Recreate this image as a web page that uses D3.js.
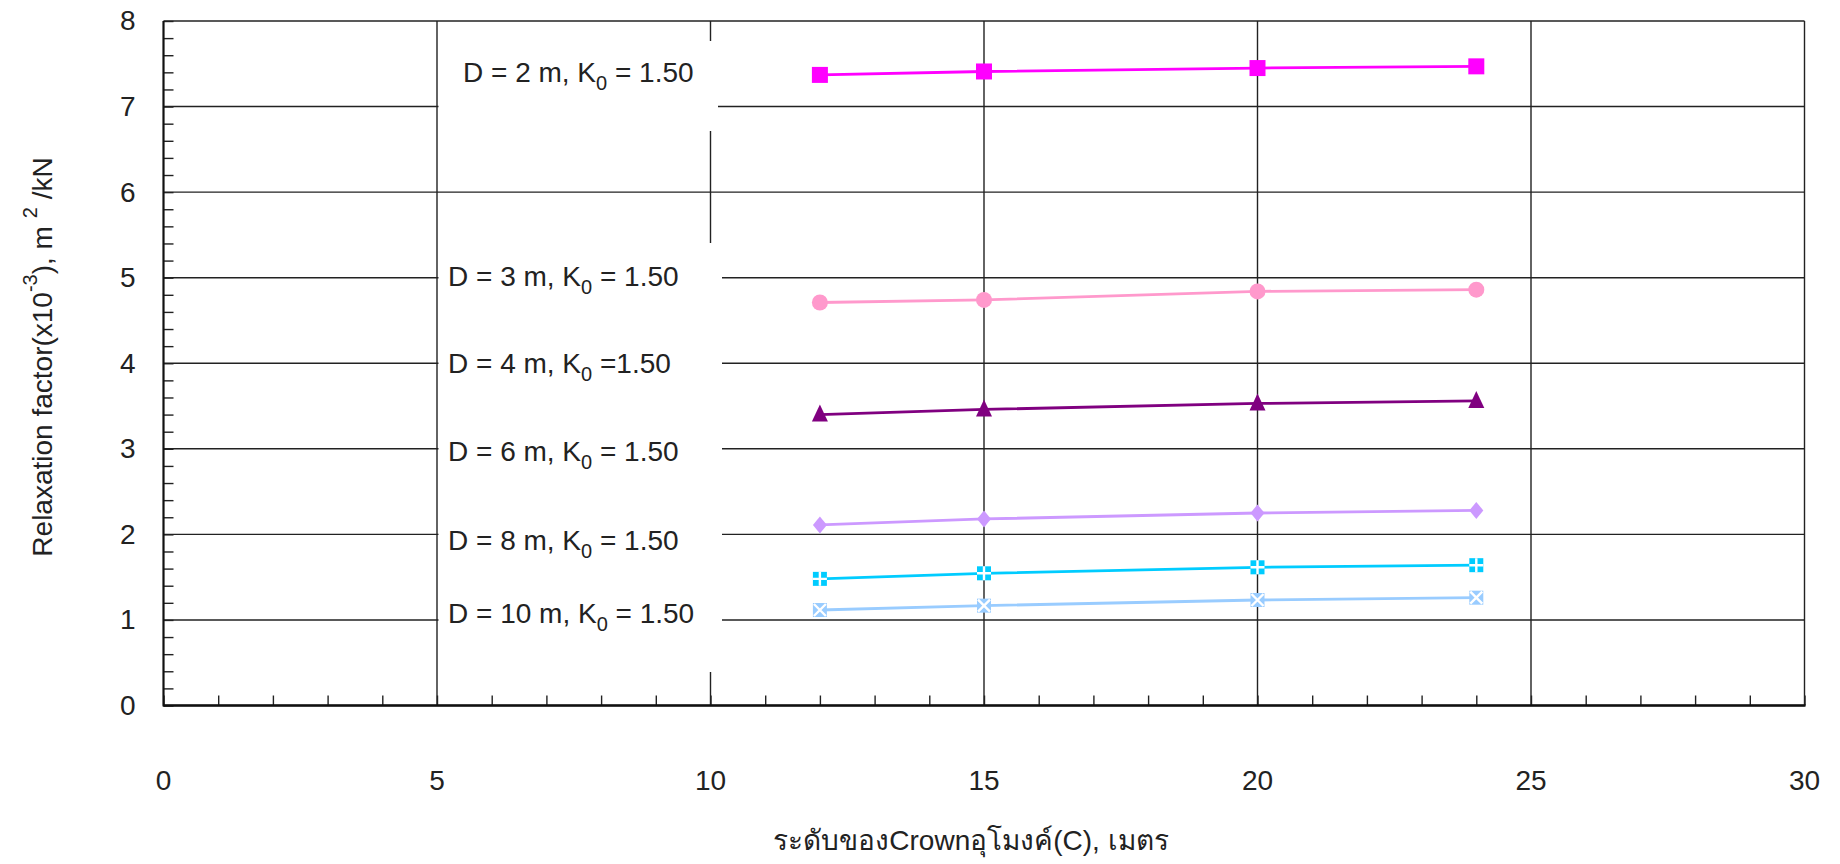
<!DOCTYPE html>
<html>
<head>
  <meta charset="utf-8">
  <title>Relaxation factor vs crown level</title>
  <script src="https://d3js.org/d3.v7.min.js"></script>
  <style>
    body { margin: 0; background: #fff; }
    svg text { font-family: "Liberation Sans", Arial, "Noto Sans", sans-serif; fill: #222; }
  </style>
</head>
<body>
  <div id="chart"></div>

  <script>
    // data -----------------------------------------------------------------
    const crownLevels = [12, 15, 20, 24];
    const rfD2 = [7.37, 7.41, 7.45, 7.47];
    const rfD3 = [4.71, 4.74, 4.84, 4.86];
    const rfD4 = [3.40, 3.46, 3.53, 3.56];
    const rfD6 = [2.11, 2.18, 2.25, 2.28];
    const rfD8 = [1.48, 1.545, 1.615, 1.64];
    const rfD10 = [1.116, 1.167, 1.233, 1.26];

    const xTicks = [0, 5, 10, 15, 20, 25, 30];
    const yTicks = [0, 1, 2, 3, 4, 5, 6, 7, 8];

    const seriesNames = ['D = 2 m', 'D = 3 m', 'D = 4 m', 'D = 6 m', 'D = 8 m', 'D = 10 m'];
    const seriesTails = [' = 1.50', ' = 1.50', ' =1.50', ' = 1.50', ' = 1.50', ' = 1.50'];
    const labelLevels = [7.29, 4.906, 3.886, 2.86, 1.82, 0.968];

    const xTitle = 'ระดับของCrownอุโมงค์(C), เมตร';

    // layout ----------------------------------------------------------------
    const W = 1840, H = 864;
    const plotL = 163.5, plotR = 1804.5, plotT = 21, plotB = 705.5;

    const svg = d3.select('#chart')
      .append('svg')
      .attr('width', W)
      .attr('height', H);

    const x = d3.scaleLinear().domain([0, 30]).range([plotL, plotR]);
    const y = d3.scaleLinear().domain([0, 8]).range([plotB, plotT]);

    // grid lines
    svg.append('g')
      .selectAll('line')
      .data(yTicks)
      .join('line')
      .attr('x1', plotL).attr('x2', plotR)
      .attr('y1', d => y(d)).attr('y2', d => y(d))
      .attr('stroke', '#222')
      .attr('stroke-width', 1.4);

    svg.append('g')
      .selectAll('line')
      .data(xTicks)
      .join('line')
      .attr('x1', d => x(d)).attr('x2', d => x(d))
      .attr('y1', plotT).attr('y2', plotB)
      .attr('stroke', '#222')
      .attr('stroke-width', 1.4);

    // minor ticks (inside)
    svg.append('g')
      .attr('transform', `translate(${plotL},0)`)
      .call(d3.axisLeft(y).tickValues(d3.range(0, 8.01, 0.2)).tickSize(-10).tickFormat(''))
      .call(g => g.select('.domain').remove())
      .call(g => g.selectAll('line').attr('stroke', '#222').attr('stroke-width', 1.4));

    svg.append('g')
      .attr('transform', `translate(0,${plotB})`)
      .call(d3.axisBottom(x).tickValues(d3.range(0, 31, 1)).tickSize(-10).tickFormat(''))
      .call(g => g.select('.domain').remove())
      .call(g => g.selectAll('line').attr('stroke', '#222').attr('stroke-width', 1.4));

    // heavier left / bottom axis lines
    svg.append('line')
      .attr('x1', plotL).attr('x2', plotL).attr('y1', plotT).attr('y2', plotB + 1)
      .attr('stroke', '#111').attr('stroke-width', 2);
    svg.append('line')
      .attr('x1', plotL).attr('x2', plotR + 1).attr('y1', plotB).attr('y2', plotB)
      .attr('stroke', '#111').attr('stroke-width', 2.5);

    // tick labels
    svg.append('g')
      .attr('transform', `translate(${plotL},0)`)
      .call(d3.axisLeft(y).tickValues(yTicks).tickSize(0).tickPadding(28))
      .call(g => g.select('.domain').remove())
      .call(g => g.selectAll('text').attr('font-size', 28).attr('font-family', null).style('fill', '#222'));

    svg.append('g')
      .selectAll('text')
      .data(xTicks)
      .join('text')
      .attr('x', d => x(d))
      .attr('y', 790)
      .attr('text-anchor', 'middle')
      .attr('font-size', 28)
      .text(d => d);

    // axis titles
    svg.append('text')
      .attr('x', 971)
      .attr('y', 850)
      .attr('text-anchor', 'middle')
      .attr('font-size', 28)
      .text(xTitle);

    const yTitle = svg.append('text')
      .attr('transform', 'translate(52,357) rotate(-90)')
      .attr('text-anchor', 'middle')
      .attr('font-size', 28);
    yTitle.append('tspan').text('Relaxation factor(x10');
    yTitle.append('tspan').attr('dy', -15).attr('font-size', 20).text('-3');
    yTitle.append('tspan').attr('dy', 15).text('), m ');
    yTitle.append('tspan').attr('dy', -15).attr('font-size', 20).text('2');
    yTitle.append('tspan').attr('dy', 15).text(' /kN');

    // white boxes behind the series labels
    svg.append('rect')
      .attr('x', x(5) + 1.5).attr('y', 41)
      .attr('width', 718 - x(5) - 1.5).attr('height', 90)
      .attr('fill', '#fff');
    svg.append('rect')
      .attr('x', x(5) + 1.5).attr('y', 243)
      .attr('width', 722 - x(5) - 1.5).attr('height', 429)
      .attr('fill', '#fff');

    // series labels
    seriesNames.forEach((name, i) => {
      const t = svg.append('text')
        .attr('x', i === 0 ? 463 : 448)
        .attr('y', y(labelLevels[i]))
        .attr('font-size', 28);
      t.append('tspan').text(name + ', K');
      t.append('tspan').attr('dy', 8).attr('font-size', 20).text('0');
      t.append('tspan').attr('dy', -8).text(seriesTails[i]);
    });

    // series lines + markers --------------------------------------------------
    const series = [
      { values: rfD2, color: '#ff00ff', marker: 'square' },
      { values: rfD3, color: '#ff99cc', marker: 'circle' },
      { values: rfD4, color: '#800080', marker: 'triangle' },
      { values: rfD6, color: '#cc99ff', marker: 'diamond' },
      { values: rfD8, color: '#00ccff', marker: 'plusbox' },
      { values: rfD10, color: '#99ccff', marker: 'xbox' }
    ];

    const line = d3.line()
      .x(d => x(d[0]))
      .y(d => y(d[1]));

    series.forEach(s => {
      const pts = crownLevels.map((c, i) => [c, s.values[i]]);

      svg.append('path')
        .datum(pts)
        .attr('d', line)
        .attr('fill', 'none')
        .attr('stroke', s.color)
        .attr('stroke-width', 2.8);

      const g = svg.append('g')
        .selectAll('g')
        .data(pts)
        .join('g')
        .attr('transform', d => `translate(${x(d[0])},${y(d[1])})`);

      if (s.marker === 'square') {
        g.append('rect').attr('x', -8).attr('y', -8).attr('width', 16).attr('height', 16).attr('fill', s.color);
      } else if (s.marker === 'circle') {
        g.append('circle').attr('r', 8).attr('fill', s.color);
      } else if (s.marker === 'triangle') {
        g.append('path').attr('d', 'M0,-10L8,7L-8,7Z').attr('fill', s.color);
      } else if (s.marker === 'diamond') {
        g.append('path').attr('d', 'M0,-8.5L7,0L0,8.5L-7,0Z').attr('fill', s.color);
      } else {
        g.append('rect').attr('x', -7).attr('y', -7).attr('width', 14).attr('height', 14).attr('fill', s.color);
        const d = s.marker === 'plusbox'
          ? 'M0,-7V7M-7,0H7'
          : 'M-6,-6L6,6M6,-6L-6,6';
        g.append('path').attr('d', d).attr('stroke', '#fff').attr('stroke-width', 2.4);
      }
    });
  </script>
</body>
</html>
